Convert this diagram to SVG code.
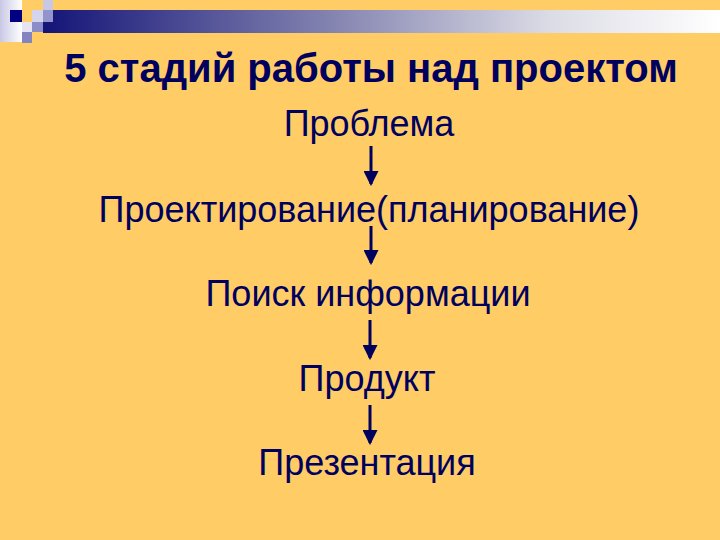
<svg xmlns="http://www.w3.org/2000/svg" width="720" height="540" viewBox="0 0 720 540">
<defs>
<linearGradient id="bar" x1="0" y1="0" x2="1" y2="0">
<stop offset="0" stop-color="#141478"/>
<stop offset="0.45" stop-color="#8a8ab4"/>
<stop offset="0.75" stop-color="#dcdce6"/>
<stop offset="1" stop-color="#ffffff"/>
</linearGradient>
<linearGradient id="strip" x1="0" y1="0" x2="1" y2="0">
<stop offset="0" stop-color="#c8c8e6"/>
<stop offset="1" stop-color="#ffffff"/>
</linearGradient>
<marker id="ah" markerWidth="5" markerHeight="5" refX="4.3" refY="2.5" orient="auto" markerUnits="strokeWidth">
<path d="M0,0 L5,2.5 L0,5 Z" fill="#00005e"/>
</marker>
<style>
.t{font-family:"Liberation Sans",Arial,sans-serif;fill:#00005e;text-anchor:middle}
.h{font-size:40px;font-weight:bold}
.n{font-size:36px}
.c{stroke:#00005e;stroke-width:3;fill:none;marker-end:url(#ah)}
</style>
</defs>
<rect width="720" height="540" fill="#ffcc66"/>
<g id="decor">
<rect x="43" y="10" width="677" height="23" fill="url(#bar)"/>
<rect x="0" y="0" width="22" height="42" fill="url(#strip)"/>
<rect x="10" y="10" width="12" height="12" fill="#000080"/>
<rect x="43" y="0" width="10" height="10" fill="#c8c8e4"/>
<rect x="32" y="10" width="11" height="12" fill="#d4d4ec"/>
<rect x="43" y="10" width="10" height="12" fill="#9494cc"/>
<rect x="22" y="22" width="10" height="10" fill="#e4e4f2"/>
<rect x="32" y="22" width="11" height="10" fill="#8c8cc8"/>
<rect x="22" y="32" width="10" height="11" fill="#8484c0"/>
</g>
<g id="title"><text class="t h" x="371" y="82">5 стадий работы над проектом</text></g>
<g id="n1"><text class="t n" x="369" y="136">Проблема</text></g>
<g id="n2"><text class="t n" x="369" y="222">Проектирование(планирование)</text></g>
<g id="n3"><text class="t n" x="368" y="306">Поиск информации</text></g>
<g id="n4"><text class="t n" x="367" y="391">Продукт</text></g>
<g id="n5"><text class="t n" x="367" y="475">Презентация</text></g>
<g id="connectors">
<line class="c" x1="371" y1="146" x2="371" y2="184"/>
<line class="c" x1="371" y1="226" x2="371" y2="263"/>
<line class="c" x1="370" y1="320" x2="370" y2="358"/>
<line class="c" x1="370" y1="405" x2="370" y2="443"/>
</g>
</svg>
